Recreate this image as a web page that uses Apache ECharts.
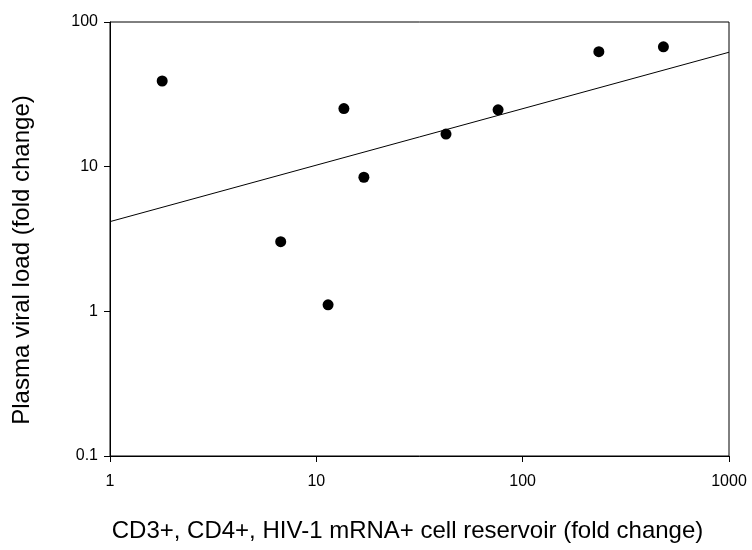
<!DOCTYPE html>
<html>
<head>
<meta charset="utf-8">
<script src="https://cdn.jsdelivr.net/npm/echarts@6/dist/echarts.min.js"></script>
<style>html,body{margin:0;padding:0;background:#fff}#c{width:752px;height:550px}</style>
</head>
<body>
<div id="c"></div>
<script>
var reservoirFold = [1.79, 6.72, 11.4, 13.6, 17.0, 42.5, 76, 234, 481];
var viralLoadFold = [39.1, 3.03, 1.11, 25.2, 8.45, 16.8, 24.7, 62.4, 67.4];
var fitX = [1, 1000];
var fitY = [4.17, 61.8];
var xTitle = 'CD3+, CD4+, HIV-1 mRNA+ cell reservoir (fold change)';
var yTitle = 'Plasma viral load (fold change)';

var pts = reservoirFold.map(function (x, i) { return [x, viralLoadFold[i]]; });
var fit = fitX.map(function (x, i) { return [x, fitY[i]]; });

var chart = echarts.init(document.getElementById('c'), null, {renderer: 'canvas'});
var fontFam = 'Liberation Sans, Arial, sans-serif';
var axisCommon = {
  type: 'log', logBase: 10,
  axisLine: {show: true, lineStyle: {color: '#000', width: 1}},
  axisTick: {show: true, inside: false, length: 6, lineStyle: {color: '#000'}},
  minorTick: {show: false},
  splitLine: {show: false},
  nameLocation: 'middle'
};
chart.setOption({
  animation: false,
  backgroundColor: '#fff',
  grid: {left: 110, top: 22, right: 23, bottom: 94, show: true, borderColor: '#000', borderWidth: 1},
  xAxis: Object.assign({}, axisCommon, {
    min: 1, max: 1000,
    name: xTitle, nameGap: 63,
    nameTextStyle: {color: '#000', fontFamily: fontFam, fontSize: 24, padding: [0, 24, 0, 0]},
    axisLabel: {color: '#000', fontFamily: fontFam, fontSize: 16, margin: 18,
      formatter: function (v) { return String(v); }}
  }),
  yAxis: Object.assign({}, axisCommon, {
    min: 0.1, max: 100,
    name: yTitle, nameGap: 76,
    nameTextStyle: {color: '#000', fontFamily: fontFam, fontSize: 24, padding: [0, 42, 0, 0]},
    axisLabel: {color: '#000', fontFamily: fontFam, fontSize: 16, margin: 12,
      formatter: function (v) { return String(Math.round(v * 10) / 10); }}
  }),
  series: [
    {type: 'line', data: fit, showSymbol: false, symbol: 'none',
      lineStyle: {color: '#000', width: 1}, silent: true},
    {type: 'scatter', data: pts, symbol: 'circle', symbolSize: 11,
      itemStyle: {color: '#000', opacity: 1}}
  ]
});
</script>
</body>
</html>
